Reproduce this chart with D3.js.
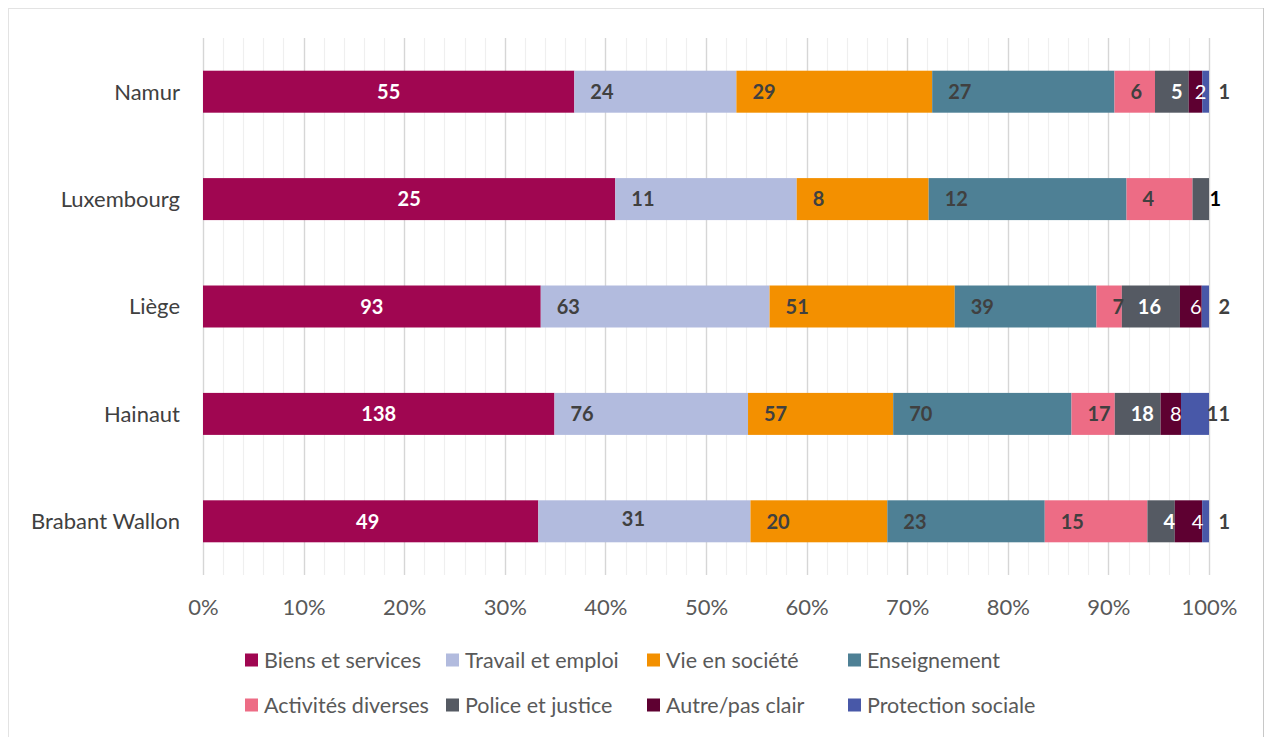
<!DOCTYPE html>
<html>
<head>
<meta charset="utf-8">
<script src="https://cdn.jsdelivr.net/npm/d3@7"></script>
<style>
  body { margin: 0; background: #fff; }
  svg { display: block; }
  text { font-family: Lato, "Open Sans", sans-serif; }
</style>
</head>
<body>
<svg id="chart" width="1268" height="737"></svg>
<script>
// Provinces (rows, top to bottom) and themes (stack order, left to right)
const provinces = ["Namur", "Luxembourg", "Liège", "Hainaut", "Brabant Wallon"];
const themes = ["Biens et services", "Travail et emploi", "Vie en société", "Enseignement",
                "Activités diverses", "Police et justice", "Autre/pas clair", "Protection sociale"];

// Counts per theme, in province order
const biensServices     = [55, 25, 93, 138, 49];
const travailEmploi     = [24, 11, 63, 76, 31];
const vieSociete        = [29, 8, 51, 57, 20];
const enseignement      = [27, 12, 39, 70, 23];
const activitesDiverses = [6, 4, 7, 17, 15];
const policeJustice     = [5, 1, 16, 18, 4];
const autrePasClair     = [2, 0, 6, 8, 4];
const protectionSociale = [1, 0, 2, 11, 1];

// Axis ticks
const tickValues = [0, 0.1, 0.2, 0.3, 0.4, 0.5, 0.6, 0.7, 0.8, 0.9, 1];
const tickLabels = ["0%", "10%", "20%", "30%", "40%", "50%", "60%", "70%", "80%", "90%", "100%"];

const seriesValues = [biensServices, travailEmploi, vieSociete, enseignement,
                      activitesDiverses, policeJustice, autrePasClair, protectionSociale];

const rows = provinces.map((p, i) => {
  const r = { province: p };
  themes.forEach((t, k) => { r[t] = seriesValues[k][i]; });
  return r;
});

// Fill colours and data-label styling per theme
const style = {
  "Biens et services":  { fill: "#A00651", label: "#ffffff", weight: 700, place: "center" },
  "Travail et emploi":  { fill: "#B2BBDE", label: "#404040", weight: 700, place: "base" },
  "Vie en société":     { fill: "#F39000", label: "#404040", weight: 700, place: "base" },
  "Enseignement":       { fill: "#4E8095", label: "#404040", weight: 700, place: "base" },
  "Activités diverses": { fill: "#ED6C85", label: "#404040", weight: 700, place: "base" },
  "Police et justice":  { fill: "#555A63", label: "#ffffff", weight: 700, place: "base", outside: "#000000" },
  "Autre/pas clair":    { fill: "#5E0031", label: "#ffffff", weight: 400, place: "center", dx: 5 },
  "Protection sociale": { fill: "#4858A8", label: "#404040", weight: 700, place: "end" }
};
// Individual label adjustments
const labelNudge = {
  "Brabant Wallon|Travail et emploi": { place: "center", dx: -11, dy: -3 },
  "Brabant Wallon|Autre/pas clair": { dx: 9 },
  "Brabant Wallon|Biens et services": { dx: -3 }
};

const FONT = "Lato, 'Open Sans', sans-serif";
const svg = d3.select("#chart");
const W = 1268, H = 737;

// Outer chart frame
svg.append("rect").attr("x", 8.5).attr("y", 8.5).attr("width", 1255).attr("height", H)
  .attr("fill", "#fff").attr("stroke", "#e3e3e3");
svg.append("line").attr("x1", 1263.5).attr("x2", 1263.5).attr("y1", 8).attr("y2", H)
  .attr("stroke", "#c8c8c8");

const plot = { left: 203, right: 1209, top: 38, bottom: 575 };

const x = d3.scaleLinear().domain([0, 1]).range([plot.left, plot.right]);
const y = d3.scaleBand().domain(provinces).range([plot.top, plot.bottom])
  .paddingInner(0.609).paddingOuter(0.3045);

// Gridlines: minor every 2 %, major every 10 %
const minor = d3.range(0, 51).map(i => i / 50).filter(v => Math.round(v * 50) % 5 !== 0);
svg.append("g").selectAll("line").data(minor).join("line")
  .attr("x1", d => Math.round(x(d)) + 0.5).attr("x2", d => Math.round(x(d)) + 0.5)
  .attr("y1", plot.top).attr("y2", plot.bottom)
  .attr("stroke", "#efefef").attr("stroke-width", 1.2);
svg.append("g").selectAll("line").data(tickValues).join("line")
  .attr("x1", d => Math.round(x(d)) + 0.5).attr("x2", d => Math.round(x(d)) + 0.5)
  .attr("y1", plot.top).attr("y2", plot.bottom)
  .attr("stroke", "#d6d6d6").attr("stroke-width", 1.4);

// Stacked 100 % bars
const stacked = d3.stack().keys(themes).offset(d3.stackOffsetExpand)(rows);

const layers = svg.append("g").selectAll("g").data(stacked).join("g")
  .attr("fill", d => style[d.key].fill);
layers.selectAll("rect").data(d => d).join("rect")
  .attr("x", d => x(d[0]))
  .attr("y", d => y(d.data.province))
  .attr("width", d => x(d[1]) - x(d[0]))
  .attr("height", y.bandwidth());

// Data labels
const labels = svg.append("g").attr("font-size", 20);
stacked.forEach(layer => {
  const st = style[layer.key];
  layer.forEach(d => {
    const v = d.data[layer.key];
    if (!v) return;
    const n = Object.assign({}, st, labelNudge[d.data.province + "|" + layer.key] || {});
    const x0 = x(d[0]), x1 = x(d[1]);
    let tx, anchor, color = n.label;
    if (n.place === "center") { tx = (x0 + x1) / 2; anchor = "middle"; }
    else if (n.place === "base") {
      tx = x0 + 16; anchor = "start";
      // a label that runs past the end of a narrow segment is drawn dark
      if (x1 - x0 < 20 && n.outside) { color = n.outside; tx = x0 + 17; }
    } else { tx = x(1) + 21; anchor = "end"; }
    tx += n.dx || 0;
    labels.append("text")
      .attr("x", tx)
      .attr("y", y(d.data.province) + y.bandwidth() / 2 + (n.dy || 0))
      .attr("dy", "0.36em")
      .attr("text-anchor", anchor)
      .attr("font-weight", n.weight)
      .attr("fill", color)
      .text(v);
  });
});

// Category axis
svg.append("g").selectAll("text").data(provinces).join("text")
  .attr("x", 180).attr("y", d => y(d) + y.bandwidth() / 2).attr("dy", "0.36em")
  .attr("text-anchor", "end").attr("font-size", 22).attr("fill", "#404040")
  .text(d => d);

// Percentage axis
const xAxis = d3.axisBottom(x).tickValues(tickValues)
  .tickFormat((d, i) => tickLabels[i]).tickSize(0).tickPadding(0);
const gx = svg.append("g").attr("transform", `translate(0, ${plot.bottom + 24})`).call(xAxis);
gx.select(".domain").remove();
gx.selectAll("text").attr("font-size", 22).attr("fill", "#595959")
  .attr("font-family", FONT);

// Legend: two rows of four entries
const legend = svg.append("g");
themes.forEach((t, i) => {
  const col = i % 4, row = Math.floor(i / 4);
  const lx = 245 + col * 201, ly = 660 + row * 45;
  const g = legend.append("g").attr("transform", `translate(${lx}, ${ly})`);
  g.append("rect").attr("x", 0).attr("y", -6.5).attr("width", 13).attr("height", 13)
    .attr("fill", style[t].fill);
  g.append("text").attr("x", 19).attr("y", 0).attr("dy", "0.36em")
    .attr("font-size", 21.5).attr("fill", "#595959").text(t);
});
</script>
</body>
</html>
